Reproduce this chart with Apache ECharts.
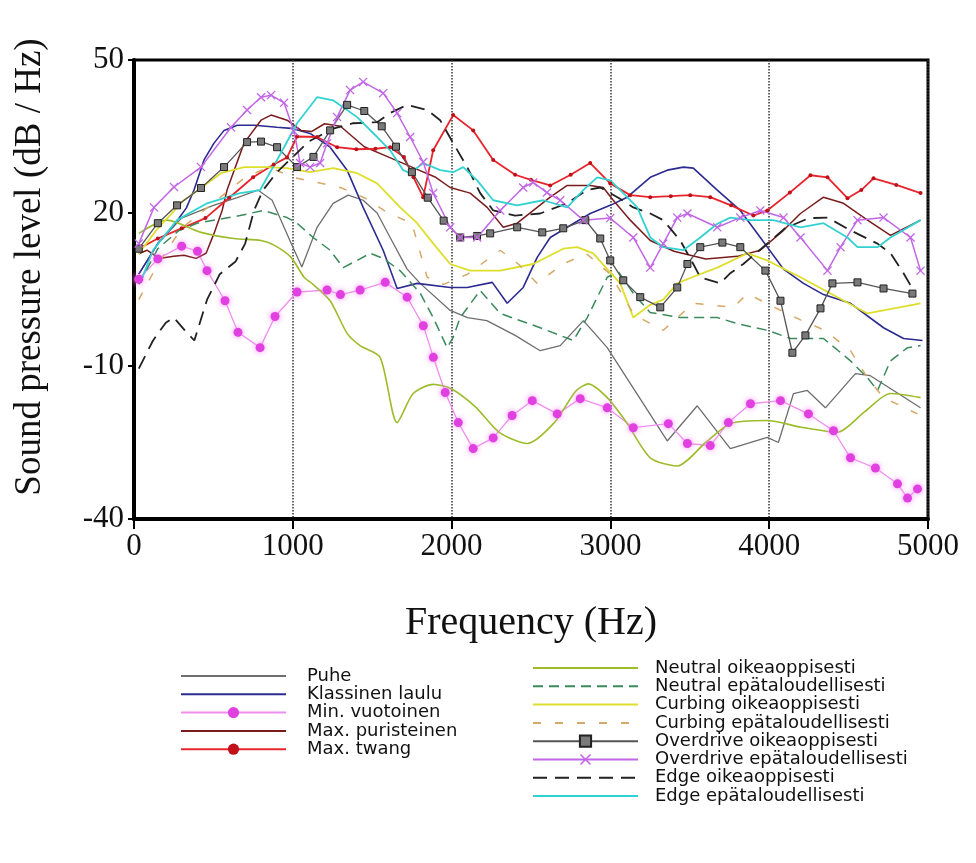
<!DOCTYPE html>
<html>
<head>
<meta charset="utf-8">
<title>Sound pressure level</title>
<script src="https://cdn.jsdelivr.net/npm/echarts@6.0.0/dist/echarts.min.js"></script>
<style>
  html, body { margin: 0; padding: 0; background: #fff; }
  #main { width: 976px; height: 863px; }
</style>
</head>
<body>
<div id="main"></div>
<script>
// values: [frequency (Hz), level (dB/Hz)]
var puhe = [[30,8],[150,14],[300,19],[500,21.5],[650,23],[780,24.5],[870,22.5],[990,14],[1057,9.4],[1153,17.2],[1254,21.9],[1349,23.5],[1443,22.5],[1531,20],[1613,15.2],[1720,9],[1802,6.2],[1991,0.9],[2100,-0.5],[2222,-1.1],[2400,-4],[2558,-7],[2684,-6],[2830,-1.1],[2980,-6.4],[3358,-24.7],[3547,-17.8],[3755,-26.2],[3988,-24],[4058,-25],[4153,-15.4],[4240,-14.8],[4354,-18.2],[4543,-11.5],[4637,-11.9],[4953,-18.2]];
var klassinen = [[30,8],[150,14],[260,18],[330,21],[378,24.5],[441,30.4],[504,33.7],[567,36.2],[650,37.2],[760,37.2],[900,36.8],[990,36.6],[1109,35.6],[1235,32.9],[1342,28.4],[1443,21.1],[1569,12.7],[1657,5.2],[1783,6.2],[1991,5.4],[2098,5.4],[2256,6.4],[2350,2.3],[2451,5.4],[2539,11.3],[2621,15.2],[2728,17.2],[2873,19.9],[2999,21.5],[3106,23.1],[3251,27],[3358,28.4],[3460,29],[3522,28.8],[3673,24.5],[3818,20.5],[3944,15.2],[4090,9],[4216,6.2],[4342,4],[4512,2.3],[4720,-2.5],[4846,-4.6],[4965,-5]];
var minVuotoinen = [[30,7],[150,11],[300,13.5],[400,12.5],[460,8.7],[573,2.8],[655,-3.4],[794,-6.4],[888,-0.3],[1027,4.5],[1216,4.9],[1300,4],[1424,4.9],[1582,6.4],[1720,3.5],[1822,-2.1],[1885,-8.3],[1960,-15.2],[2042,-21.1],[2136,-26.2],[2262,-24.1],[2381,-19.7],[2508,-16.8],[2665,-19.4],[2810,-16.4],[2980,-18.2],[3144,-22.1],[3365,-21.3],[3485,-25.2],[3629,-25.6],[3743,-21.1],[3882,-17.4],[4071,-16.8],[4247,-19.4],[4405,-22.7],[4512,-28],[4669,-30],[4808,-33.1],[4871,-35.9],[4934,-34.1]];
var maxPuristeinen = [[30,12],[82,12.7],[158,11.1],[250,11.5],[315,11.7],[391,11.1],[454,12.1],[504,16],[555,20.5],[586,24.5],[693,33.7],[800,38.2],[863,39.2],[964,38.2],[1052,36.2],[1120,36],[1200,37.5],[1300,37],[1450,33],[1600,31],[1750,29],[1900,27],[1991,25],[2117,23.9],[2224,21.1],[2325,17.2],[2413,18],[2621,23.1],[2728,25.4],[2873,25.4],[2955,25],[3018,22.5],[3125,18.6],[3251,14.6],[3400,12.5],[3600,11],[3800,11.5],[3944,12.7],[4090,16.6],[4197,19.9],[4342,23.1],[4468,21.9],[4619,18.6],[4764,15.6],[4953,18.6]];
var maxTwang = [[30,13],[150,15],[300,17],[450,19],[600,23],[750,27],[880,29.5],[964,30.9],[1027,35],[1153,34.9],[1279,32.9],[1400,32.5],[1520,32.6],[1613,32.9],[1700,31],[1760,27],[1821,23.1],[1884,32.3],[2010,39.2],[2136,36.2],[2262,30.4],[2400,27.5],[2500,26.5],[2621,25.4],[2750,27.5],[2873,29.8],[2999,25.8],[3125,23.5],[3251,23.1],[3380,23.3],[3503,23.5],[3629,23.1],[3760,21.5],[3900,19.5],[3988,20.5],[4130,24],[4260,27.4],[4367,27],[4493,22.9],[4580,24.5],[4657,26.8],[4800,25.5],[4953,23.9]];
var neutralOikea = [[30,16],[208,18.6],[422,16.2],[630,15],[800,14.6],[882,13.7],[989,11.3],[1071,7.4],[1128,6],[1235,2.8],[1342,-3.6],[1424,-6],[1550,-8.3],[1657,-21.1],[1758,-15.4],[1885,-13.6],[2000,-14.5],[2150,-18],[2300,-23],[2476,-25.2],[2650,-21],[2780,-15],[2861,-13.5],[2980,-16.2],[3100,-21],[3251,-28],[3420,-29.6],[3600,-25],[3755,-21.3],[3988,-20.7],[4200,-22],[4430,-23],[4600,-19],[4764,-15.4],[4953,-16.2]];
var neutralEpat = [[30,6],[150,13],[280,16.5],[397,18],[668,19.5],[813,20.5],[964,19.1],[1027,18],[1128,15.2],[1235,12.7],[1317,9.3],[1405,10.7],[1487,12.1],[1569,11.1],[1676,8.7],[1802,4.3],[1884,-0.5],[1972,-6.4],[2010,-4.4],[2054,-0.5],[2180,4.8],[2306,0.3],[2558,-2.5],[2766,-5],[2854,-0.5],[2980,7.4],[3050,8.5],[3150,4],[3250,0.5],[3440,-0.5],[3673,-0.5],[3800,-1.7],[3988,-3],[4134,-4.6],[4342,-4.6],[4512,-9],[4619,-12.3],[4682,-14.8],[4764,-9],[4871,-6.4],[4953,-6]];
var curbingOikea = [[30,12],[150,17],[315,22.5],[548,27.8],[693,29],[838,29],[964,28.8],[1109,28],[1254,28.8],[1405,27.8],[1531,25.8],[1676,21.1],[1783,18],[1885,14],[1991,10],[2117,8.7],[2306,8.7],[2514,10],[2703,13],[2791,13.3],[2892,12.1],[2980,9],[3062,6.2],[3144,-0.5],[3251,2],[3333,3],[3421,6.2],[3522,7.5],[3673,9.3],[3863,12.1],[3988,10.7],[4197,7.4],[4386,4.2],[4619,0.3],[4953,2.3]];
var curbingEpat = [[30,3],[150,10],[300,17],[500,22],[700,27],[850,29],[1000,27],[1150,26],[1300,25],[1450,23],[1600,20],[1750,18],[1846,7.4],[1950,6],[2100,8],[2306,12.7],[2420,10],[2539,6.2],[2700,10],[2850,12],[3000,8],[3150,0],[3333,-3],[3522,2.3],[3774,1.5],[3863,4.2],[4000,2],[4200,-1],[4350,-3],[4512,-7],[4619,-12.3],[4720,-16.2],[4934,-19.4]];
var overdriveOikea = [[30,13],[150,18],[271,21.5],[422,24.9],[567,29],[712,33.9],[800,34],[901,32.9],[1027,29],[1130,31],[1235,36.2],[1342,41.2],[1450,40],[1560,37],[1650,33],[1750,28],[1850,23],[1950,18.5],[2054,15.2],[2160,15.5],[2243,16],[2413,17.2],[2571,16.2],[2703,17],[2842,18.6],[2936,15],[2999,10.7],[3081,6.8],[3188,3.5],[3314,1.5],[3421,5.4],[3485,10],[3566,13.3],[3705,14.2],[3818,13.3],[3976,8.7],[4071,2.8],[4146,-7.4],[4228,-4],[4323,1.3],[4398,6.2],[4556,6.4],[4720,5.2],[4902,4.2]];
var overdriveEpat = [[30,14],[126,21.1],[252,25.1],[422,29],[611,36.8],[712,40.2],[800,42.7],[863,43.1],[945,41.6],[1008,36],[1046,29.8],[1109,29],[1172,29.8],[1216,33.7],[1279,38.8],[1361,44.1],[1443,45.7],[1569,43.5],[1657,39.6],[1739,34.9],[1821,30],[1884,23.9],[1991,17.2],[2054,15.2],[2161,15.2],[2306,20.5],[2451,25],[2514,26],[2600,24],[2684,22.5],[2829,18.6],[2999,19],[3144,15.2],[3251,9.3],[3333,14],[3421,19.1],[3485,19.9],[3673,17.2],[3818,19.1],[3944,20.5],[4090,19.1],[4197,15.2],[4367,8.7],[4449,13.3],[4556,18.6],[4720,19.1],[4890,15.2],[4953,8.7]];
var edgeOikea = [[30,-10.5],[120,-5],[200,-1.5],[250,-0.5],[320,-3],[380,-5],[460,3],[540,8],[640,10.5],[700,14],[756,20.5],[813,24.5],[900,28],[1000,31],[1100,34],[1250,36.5],[1380,37.6],[1531,37.8],[1613,39.6],[1720,41.2],[1846,40.2],[1928,38.2],[2010,33.7],[2098,29],[2180,23.9],[2262,20.5],[2400,19.5],[2558,19.9],[2728,21.9],[2854,24.5],[2936,25],[3050,23],[3144,21.1],[3251,19.9],[3333,18.6],[3440,14.6],[3522,10],[3566,7.4],[3629,6.8],[3692,6.2],[3755,8.2],[3837,10],[3950,13],[4100,17],[4250,19],[4367,19.1],[4512,16.6],[4682,14],[4764,12.1],[4846,8.2],[4909,4.8]];
var edgeEpat = [[38,6.2],[120,12.7],[271,18.6],[460,21.9],[668,23.9],[794,24.5],[901,30.4],[1027,37.6],[1153,42.7],[1254,42.1],[1405,38.8],[1531,34.9],[1613,32.3],[1695,28.4],[1739,27.8],[1821,29.8],[1928,28.4],[2010,28],[2073,29],[2161,26.4],[2262,22.5],[2413,21.5],[2577,22.5],[2728,21.1],[2829,24.5],[2917,27],[2999,26.4],[3081,23.9],[3169,21.1],[3251,15.2],[3333,13.3],[3459,12.7],[3566,15.2],[3673,17.9],[3755,19.1],[3882,18.6],[4026,18.6],[4197,17.2],[4342,18],[4493,15.2],[4556,13.3],[4682,13.3],[4764,15.2],[4953,18.6]];

var leftNames = ['Puhe', 'Klassinen laulu', 'Min. vuotoinen', 'Max. puristeinen', 'Max. twang'];
var rightNames = ['Neutral oikeaoppisesti', 'Neutral epätaloudellisesti', 'Curbing oikeaoppisesti', 'Curbing epätaloudellisesti',
  'Overdrive oikeaoppisesti', 'Overdrive epätaloudellisesti', 'Edge oikeaoppisesti', 'Edge epätaloudellisesti'];
// series drawn without markers: hide the legend dot
var noMarker = ['Puhe', 'Klassinen laulu', 'Max. puristeinen', 'Neutral oikeaoppisesti', 'Neutral epätaloudellisesti',
  'Curbing oikeaoppisesti', 'Curbing epätaloudellisesti', 'Edge oikeaoppisesti', 'Edge epätaloudellisesti'];

var serif = 'Liberation Serif';
var crossPath = 'path://M0,1L1,0L5,4L9,0L10,1L6,5L10,9L9,10L5,6L1,10L0,9L4,5Z';

function legendItems(names) {
  return names.map(function (n) {
    return noMarker.indexOf(n) >= 0 ? { name: n, itemStyle: { opacity: 0 } } : { name: n };
  });
}

function plain(name, data, color, width, type, smooth) {
  return {
    name: name, type: 'line', data: data, symbol: 'none', showSymbol: false, smooth: smooth || false,
    lineStyle: { color: color, width: width, type: type || 'solid' },
    itemStyle: { color: color }
  };
}

var myChart = echarts.init(document.getElementById('main'));

var legendText = { fontFamily: 'DejaVu Sans', fontSize: 18, lineHeight: 18, color: '#111' };

var option = {
  backgroundColor: '#fff',
  animation: false,
  grid: { left: 134, top: 60, right: 48, bottom: 344, show: true, borderColor: '#000', borderWidth: 3 },
  legend: [{
    data: legendItems(leftNames), orient: 'vertical', left: 175, top: 662,
    itemWidth: 105, itemHeight: 14, itemGap: 0.3,
    textStyle: Object.assign({ padding: [0, 0, 0, 16] }, legendText)
  }, {
    data: legendItems(rightNames), orient: 'vertical', left: 527, top: 654,
    itemWidth: 105, itemHeight: 14, itemGap: 0.3,
    textStyle: Object.assign({ padding: [0, 0, 0, 12] }, legendText)
  }],
  graphic: [{
    type: 'text', x: 30, y: 267, rotation: Math.PI / 2,
    style: {
      text: 'Sound pressure level (dB / Hz)', fontFamily: serif, fontSize: 37, fill: '#111',
      textAlign: 'center', textVerticalAlign: 'middle'
    }
  }],
  xAxis: {
    type: 'value', min: 0, max: 5000, interval: 1000,
    name: 'Frequency (Hz)', nameLocation: 'middle', nameGap: 84,
    nameTextStyle: { fontFamily: serif, fontSize: 40, color: '#111' },
    axisLine: { onZero: false, lineStyle: { color: '#000', width: 4 } },
    axisTick: { length: 10, lineStyle: { color: '#000', width: 2 } },
    axisLabel: { fontFamily: serif, fontSize: 31, color: '#111', margin: 12, formatter: function (v) { return String(v); } },
    splitLine: { show: true, lineStyle: { color: '#333', type: 'dotted', width: 1.5 } }
  },
  yAxis: {
    type: 'value', min: -40, max: 50, interval: 30,
    axisLine: { lineStyle: { color: '#000', width: 4 } },
    axisTick: { length: 6, lineStyle: { color: '#000', width: 2 } },
    axisLabel: { fontFamily: serif, fontSize: 31, color: '#111', margin: 10 },
    splitLine: { show: false }
  },
  series: [
    plain('Puhe', puhe, '#6e6e6e', 1.3),
    plain('Klassinen laulu', klassinen, '#2b2b90', 1.6),
    {
      name: 'Min. vuotoinen', type: 'line', data: minVuotoinen, symbol: 'circle', symbolSize: 9,
      lineStyle: { color: '#f08ef0', width: 1.3 },
      itemStyle: { color: '#e040e0', shadowBlur: 6, shadowColor: '#ff88ff' }
    },
    plain('Max. puristeinen', maxPuristeinen, '#7a1c1c', 1.5),
    {
      name: 'Max. twang', type: 'line', data: maxTwang, symbol: 'circle', symbolSize: 4,
      lineStyle: { color: '#e8242c', width: 1.8 },
      itemStyle: { color: '#c0101a' }
    },
    plain('Neutral oikeaoppisesti', neutralOikea, '#9cbc2a', 1.6, 'solid', 0.25),
    plain('Neutral epätaloudellisesti', neutralEpat, '#3b8a5c', 1.5, [10, 6]),
    plain('Curbing oikeaoppisesti', curbingOikea, '#dede2c', 1.8),
    plain('Curbing epätaloudellisesti', curbingEpat, '#d6a868', 1.5, [8, 14]),
    {
      name: 'Overdrive oikeaoppisesti', type: 'line', data: overdriveOikea, symbol: 'rect', symbolSize: 7,
      lineStyle: { color: '#555', width: 1.3 },
      itemStyle: { color: '#7a7a7a', borderColor: '#222', borderWidth: 1 }
    },
    {
      name: 'Overdrive epätaloudellisesti', type: 'line', data: overdriveEpat, symbol: crossPath, symbolSize: 9,
      lineStyle: { color: '#c266e6', width: 1.5 },
      itemStyle: { color: '#c266e6' }
    },
    plain('Edge oikeaoppisesti', edgeOikea, '#222', 1.8, [14, 8]),
    plain('Edge epätaloudellisesti', edgeEpat, '#33d2d2', 1.8)
  ]
};

myChart.setOption(option);
</script>
</body>
</html>
